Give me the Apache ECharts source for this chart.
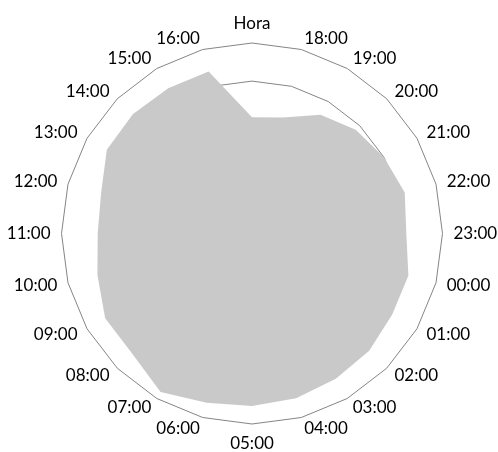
<!DOCTYPE html>
<html>
<head>
<meta charset="utf-8">
<script src="https://cdn.jsdelivr.net/npm/echarts@6/dist/echarts.min.js"></script>
<style>
html,body{margin:0;padding:0;background:#fff;}
#chart{width:498px;height:452px;}
</style>
</head>
<body>
<div id="chart"></div>
<script>
// Categories in clockwise order, starting at the top
const categories = ["Hora","18:00","19:00","20:00","21:00","22:00","23:00","00:00","01:00","02:00","03:00","04:00",
  "05:00","06:00","07:00","08:00","09:00","10:00","11:00","12:00","13:00","14:00","15:00","16:00"];
const values = [61, 63, 72, 77, 80, 83, 81, 85, 85, 87, 88, 89.5,
  90.5, 92, 96, 89, 89, 84, 81, 82, 88, 88.5, 88, 88];
const axisMax = 100;

// ECharts radar places indicators counter-clockwise; reorder to get clockwise layout
function toCCW(arr){ return [arr[0]].concat(arr.slice(1).reverse()); }
const indicators = toCCW(categories).map(n => ({name: n, min: 0, max: axisMax}));
const seriesValues = toCCW(values);

const chart = echarts.init(document.getElementById('chart'), null, {renderer: 'canvas'});
chart.setOption({
  animation: false,
  backgroundColor: '#ffffff',
  radar: {
    center: [252, 233.5],
    radius: 190.5,
    startAngle: 90,
    shape: 'polygon',
    splitNumber: 5,
    indicator: indicators,
    axisNameGap: 11,
    axisName: { color: '#000000', fontFamily: 'Lato', fontSize: 17 },
    axisLine: { show: false },
    axisTick: { show: false },
    axisLabel: { show: false },
    splitArea: { show: false },
    splitLine: { lineStyle: { color: '#858585', width: 1 } }
  },
  series: [{
    type: 'radar',
    symbol: 'none',
    lineStyle: { width: 0, opacity: 0 },
    areaStyle: { color: '#c9c9c9', opacity: 1 },
    data: [{ value: seriesValues, name: 'Hora' }]
  }]
});
</script>
</body>
</html>
